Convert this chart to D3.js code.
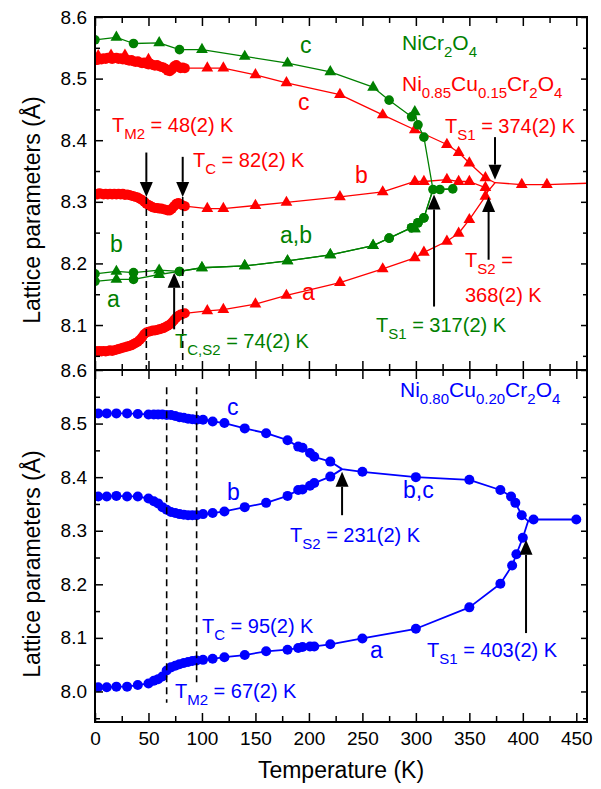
<!DOCTYPE html>
<html>
<head>
<meta charset="utf-8">
<script src="https://cdn.jsdelivr.net/npm/d3@7"></script>
<style>
  body { margin: 0; background: #fff; }
  text { font-family: "Liberation Sans", Arial, sans-serif; }
</style>
</head>
<body>
<svg id="chart" width="601" height="789"></svg>
<script>
// ---------------- NiCr2O4 (green) ----------------
const ncoCircT = [0, 36, 79, 275, 296, 302, 307.5];
const ncoCircC = [8.563, 8.557, 8.547, 8.465, 8.438, 8.425, 8.405];
const ncoCircB = [8.183, 8.185, 8.187, 8.241, 8.258, 8.266, 8.274];
const ncoCircA = [8.171, 8.174, 8.187, 8.241, 8.258, 8.266, 8.274];
const ncoTriT = [20, 60, 100, 140, 180, 220, 260, 299];
const ncoTriC = [8.567, 8.558, 8.547, 8.536, 8.525, 8.511, 8.486, 8.446];
const ncoTriB = [8.187, 8.189, 8.193, 8.196, 8.204, 8.214, 8.229, 8.256];
const ncoTriA = [8.174, 8.182, 8.193, 8.196, 8.204, 8.214, 8.229, 8.256];
const ncoCubicT = [316, 322.5, 334.5];
const ncoCubic = [8.320, 8.320, 8.321];

// ---------------- Ni0.85Cu0.15Cr2O4 (red) ----------------
const cu15CircT = [0, 2, 4, 6, 8, 10, 12, 14, 16, 18, 20, 22, 24, 26, 28, 30, 32, 34, 36, 38, 40, 42,
  44, 46, 48, 50, 52, 54, 56, 58, 60, 62, 64, 66, 68, 70, 72, 74, 76, 78, 80, 82, 84];
const cu15CircC = [8.531, 8.530, 8.532, 8.531, 8.533, 8.532, 8.534, 8.533, 8.532, 8.533, 8.534, 8.532,
  8.533, 8.531, 8.532, 8.530, 8.529, 8.530, 8.528, 8.527, 8.528, 8.526, 8.525, 8.526, 8.524, 8.523,
  8.524, 8.522, 8.521, 8.522, 8.520, 8.519, 8.518, 8.516, 8.513, 8.512, 8.515, 8.520, 8.522, 8.519,
  8.517, 8.518, 8.517];
const cu15CircB = [8.313, 8.312, 8.314, 8.313, 8.312, 8.313, 8.312, 8.313, 8.312, 8.313, 8.312, 8.313,
  8.312, 8.313, 8.311, 8.312, 8.311, 8.310, 8.309, 8.308, 8.307, 8.305, 8.303, 8.300, 8.297, 8.295,
  8.293, 8.291, 8.290, 8.290, 8.289, 8.289, 8.288, 8.287, 8.286, 8.286, 8.289, 8.293, 8.297, 8.298,
  8.296, 8.294, 8.293];
const cu15CircA = [8.058, 8.057, 8.058, 8.057, 8.058, 8.057, 8.058, 8.059, 8.058, 8.059, 8.060, 8.061,
  8.062, 8.063, 8.064, 8.065, 8.066, 8.067, 8.069, 8.071, 8.073, 8.076, 8.080, 8.085, 8.088, 8.089,
  8.090, 8.091, 8.091, 8.092, 8.093, 8.094, 8.095, 8.097, 8.099, 8.101, 8.104, 8.108, 8.112, 8.115,
  8.117, 8.118, 8.119];
const cu15TriLowT = [3, 15, 28, 50];
const cu15TriLowC = [8.537, 8.538, 8.538, 8.531];
const cu15TriT = [105, 120, 150, 179, 229, 269, 299, 307.5, 329, 340, 350, 365];
const cu15TriC = [8.517, 8.517, 8.506, 8.493, 8.474, 8.441, 8.417, null, 8.393, 8.380, 8.363, 8.339];
const cu15TriB = [8.289, 8.289, 8.294, 8.299, 8.308, 8.316, 8.333, 8.333, 8.336, 8.333, 8.333, 8.323];
const cu15TriA = [8.123, 8.125, 8.134, 8.148, 8.169, 8.191, 8.209, 8.218, 8.236, 8.249, 8.271, 8.309];
// where a meets b (tetragonal) and where c joins them (cubic)
const cu15JoinT = [367, 374];
const cu15JoinV = [8.316, 8.331];
const cu15CubicT = [399, 422.5, 475];
const cu15Cubic = [8.328, 8.328, 8.331];

// ---------------- Ni0.80Cu0.20Cr2O4 (blue) ----------------
const cu20T = [3, 11, 20, 30, 40, 50, 55, 59, 63, 67, 71, 75, 79, 83, 87, 91, 95, 101, 110, 121,
  140, 160, 180, 190, 194, 201, 205, 220];
const cu20C = [8.519, 8.519, 8.519, 8.519, 8.518, 8.517, 8.517, 8.517, 8.517, 8.516, 8.516, 8.514,
  8.512, 8.511, 8.509, 8.508, 8.507, 8.507, 8.504, 8.501, 8.491, 8.482, 8.469, 8.457, 8.455, 8.445,
  8.438, 8.429];
const cu20B = [8.364, 8.364, 8.365, 8.364, 8.364, 8.360, 8.355, 8.351, 8.344, 8.339, 8.335, 8.333,
  8.331, 8.330, 8.329, 8.329, 8.329, 8.331, 8.333, 8.336, 8.344, 8.352, 8.365, 8.376, 8.377, 8.384,
  8.389, 8.401];
const cu20A = [8.008, 8.008, 8.009, 8.009, 8.012, 8.015, 8.020, 8.023, 8.028, 8.039, 8.045, 8.048,
  8.051, 8.053, 8.055, 8.057, 8.058, 8.059, 8.061, 8.064, 8.068, 8.075, 8.078, 8.081, 8.083, 8.084,
  8.084, 8.088];
const cu20BCT = [250, 300, 350, 379, 389, 393, 399];
const cu20BC = [8.410, 8.400, 8.395, 8.376, 8.364, 8.352, 8.329];
const cu20AHighT = [250, 300, 350, 379, 390, 394, 400];
const cu20AHigh = [8.099, 8.117, 8.157, 8.201, 8.235, 8.256, 8.287];
const cu20JoinT = [231, 405];
const cu20JoinV = [8.415, 8.318];
const cu20CubicT = [410, 450];
const cu20Cubic = [8.321, 8.321];

// ---------------- transition markers ----------------
// arrows: temperature, tail value, head value
const topArrowT = [48, 82, 74, 317, 368, 374];
const topArrowFrom = [8.380, 8.373, 8.093, 8.130, 8.206, 8.405];
const topArrowTo = [8.308, 8.308, 8.185, 8.312, 8.308, 8.336];
const botArrowT = [231, 403];
const botArrowFrom = [8.329, 8.109];
const botArrowTo = [8.410, 8.283];
// dashed guides
const topDashT = [48, 82];
const topDashFrom = [8.308, 8.308];
const botDashT = [67, 95];
const botDashFrom = [8.568, 8.568];
const botDashTo = [7.979, 8.016];

// axis ticks
const xMajor = [0, 50, 100, 150, 200, 250, 300, 350, 400, 450];
const xMinor = [25, 75, 125, 175, 225, 275, 325, 375, 425];
const topYMajor = [8.1, 8.2, 8.3, 8.4, 8.5, 8.6];
const topYMinor = [8.05, 8.15, 8.25, 8.35, 8.45, 8.55];
const botYMajor = [8.0, 8.1, 8.2, 8.3, 8.4, 8.5, 8.6];
const botYMinor = [7.95, 8.05, 8.15, 8.25, 8.35, 8.45, 8.55];

// ---------------- layout ----------------
const RED = "#ff0000", GREEN = "#008000", BLUE = "#0000ff";
const left = 95, right = 587, topEdge = 17, midEdge = 370, botEdge = 722;

const svg = d3.select("#chart");
svg.append("rect").attr("width", 601).attr("height", 789).attr("fill", "#fff");

const x = d3.scaleLinear().domain([0, 460]).range([left, right]);
const yTop = d3.scaleLinear().domain([8.027, 8.6]).range([midEdge, topEdge]);
const yBot = d3.scaleLinear().domain([7.943, 8.6]).range([botEdge, midEdge]);

const pts = (T, V) => T.map((t, i) => ({ t, v: V[i] })).filter(d => d.v !== null && d.v !== undefined);
const byT = arr => arr.slice().sort((a, b) => a.t - b.t);

// clip regions
const defs = svg.append("defs");
defs.append("clipPath").attr("id", "clipTop").append("rect")
  .attr("x", left).attr("y", topEdge).attr("width", right - left).attr("height", midEdge - topEdge);
defs.append("clipPath").attr("id", "clipBot").append("rect")
  .attr("x", left).attr("y", midEdge).attr("width", right - left).attr("height", botEdge - midEdge);

function drawLine(g, y, data, color, width) {
  g.append("path").datum(data)
    .attr("fill", "none").attr("stroke", color).attr("stroke-width", width)
    .attr("stroke-linejoin", "round")
    .attr("d", d3.line().x(d => x(d.t)).y(d => y(d.v)));
}
function drawCircles(g, y, data, color, r) {
  g.append("g").selectAll("circle").data(data).join("circle")
    .attr("cx", d => x(d.t)).attr("cy", d => y(d.v)).attr("r", r).attr("fill", color);
}
function drawTriangles(g, y, data, color, size) {
  const sym = d3.symbol(d3.symbolTriangle, size);
  g.append("g").selectAll("path").data(data).join("path")
    .attr("transform", d => `translate(${x(d.t)},${y(d.v)})`)
    .attr("d", sym).attr("fill", color);
}

// ---------------- top panel data ----------------
const gTop = svg.append("g").attr("clip-path", "url(#clipTop)");

// red: Ni0.85Cu0.15Cr2O4
const redJoinAB = { t: cu15JoinT[0], v: cu15JoinV[0] };
const redJoinAll = { t: cu15JoinT[1], v: cu15JoinV[1] };
const redC = byT(pts(cu15CircT, cu15CircC).concat(pts(cu15TriLowT, cu15TriLowC), pts(cu15TriT, cu15TriC)));
const redB = byT(pts(cu15CircT, cu15CircB).concat(pts(cu15TriT, cu15TriB)));
const redA = byT(pts(cu15CircT, cu15CircA).concat(pts(cu15TriT, cu15TriA)));
const redCubic = pts(cu15CubicT, cu15Cubic);
drawLine(gTop, yTop, redC.concat([redJoinAll], redCubic), RED, 1.3);
drawLine(gTop, yTop, redB.concat([redJoinAB, redJoinAll]), RED, 1.3);
drawLine(gTop, yTop, redA.concat([redJoinAB]), RED, 1.3);
[cu15CircC, cu15CircB, cu15CircA].forEach(V => drawCircles(gTop, yTop, pts(cu15CircT, V), RED, 5));
drawTriangles(gTop, yTop, pts(cu15TriLowT, cu15TriLowC), RED, 60);
[cu15TriC, cu15TriB, cu15TriA].forEach(V => drawTriangles(gTop, yTop, pts(cu15TriT, V), RED, 60));
drawTriangles(gTop, yTop, redCubic, RED, 60);

// green: NiCr2O4
const grCubic = pts(ncoCubicT, ncoCubic);
const grC = byT(pts(ncoCircT, ncoCircC).concat(pts(ncoTriT, ncoTriC)));
const grB = byT(pts(ncoCircT, ncoCircB).concat(pts(ncoTriT, ncoTriB)));
const grA = byT(pts(ncoCircT, ncoCircA).concat(pts(ncoTriT, ncoTriA)));
drawLine(gTop, yTop, grC.concat(grCubic), GREEN, 1.3);
drawLine(gTop, yTop, grB.concat(grCubic), GREEN, 1.3);
drawLine(gTop, yTop, grA.concat(grCubic.slice(0, 1)), GREEN, 1.3);
[ncoCircC, ncoCircB, ncoCircA].forEach(V => drawCircles(gTop, yTop, pts(ncoCircT, V), GREEN, 4.8));
[ncoTriC, ncoTriB, ncoTriA].forEach(V => drawTriangles(gTop, yTop, pts(ncoTriT, V), GREEN, 60));
drawCircles(gTop, yTop, grCubic, GREEN, 4.8);

// ---------------- bottom panel data ----------------
const gBot = svg.append("g").attr("clip-path", "url(#clipBot)");
const blJoinBC = { t: cu20JoinT[0], v: cu20JoinV[0] };
const blJoinAll = { t: cu20JoinT[1], v: cu20JoinV[1] };
const blC = pts(cu20T, cu20C), blB = pts(cu20T, cu20B), blA = pts(cu20T, cu20A);
const blBC = pts(cu20BCT, cu20BC), blAH = pts(cu20AHighT, cu20AHigh), blCub = pts(cu20CubicT, cu20Cubic);
drawLine(gBot, yBot, blC.concat([blJoinBC], blBC, [blJoinAll], blCub), BLUE, 1.8);
drawLine(gBot, yBot, blB.concat([blJoinBC]), BLUE, 1.8);
drawLine(gBot, yBot, blA.concat(blAH, [blJoinAll]), BLUE, 1.8);
[blC, blB, blA, blBC, blAH, blCub].forEach(d => drawCircles(gBot, yBot, d, BLUE, 5));

// ---------------- dashed guides and arrows ----------------
function dashed(y, t, v0, v1) {
  svg.append("line").attr("x1", x(t)).attr("x2", x(t)).attr("y1", y(v0)).attr("y2", y(v1))
    .attr("stroke", "#000").attr("stroke-width", 1.6).attr("stroke-dasharray", "7,5");
}
topDashT.forEach((t, i) => dashed(yTop, t, topDashFrom[i], yTop.domain()[0]));
botDashT.forEach((t, i) => dashed(yBot, t, botDashFrom[i], botDashTo[i]));

function arrow(y, t, v0, v1) {
  const px = x(t), y0 = y(v0), y1 = y(v1);
  const dir = y1 > y0 ? 1 : -1, headL = 15, headW = 6.5;
  svg.append("line").attr("x1", px).attr("x2", px).attr("y1", y0).attr("y2", y1 - dir * headL)
    .attr("stroke", "#000").attr("stroke-width", 2);
  svg.append("path").attr("fill", "#000")
    .attr("d", `M${px},${y1}L${px - headW},${y1 - dir * headL}L${px + headW},${y1 - dir * headL}Z`);
}
topArrowT.forEach((t, i) => arrow(yTop, t, topArrowFrom[i], topArrowTo[i]));
botArrowT.forEach((t, i) => arrow(yBot, t, botArrowFrom[i], botArrowTo[i]));

// ---------------- axes ----------------
function styleAxis(g) {
  g.select(".domain").remove();
  g.selectAll(".tick line").attr("stroke", "#000").attr("stroke-width", 1.5);
  g.selectAll(".tick text").attr("fill", "#000").attr("font-size", 19)
    .attr("font-family", "Liberation Sans, Arial, sans-serif");
}
function panelAxes(y, yMajor, yMinor, xLabels) {
  const [yb, yt] = y.range();
  const fmt = d3.format(".1f");
  svg.append("g").attr("transform", `translate(${left},0)`)
    .call(d3.axisLeft(y).tickValues(yMajor).tickSize(-8).tickPadding(8).tickFormat(fmt)).call(styleAxis);
  svg.append("g").attr("transform", `translate(${left},0)`)
    .call(d3.axisLeft(y).tickValues(yMinor).tickSize(-5).tickFormat("")).call(styleAxis);
  svg.append("g").attr("transform", `translate(${right},0)`)
    .call(d3.axisRight(y).tickValues(yMajor).tickSize(-6).tickFormat("")).call(styleAxis);
  svg.append("g").attr("transform", `translate(${right},0)`)
    .call(d3.axisRight(y).tickValues(yMinor).tickSize(-4).tickFormat("")).call(styleAxis);
  svg.append("g").attr("transform", `translate(0,${yt})`)
    .call(d3.axisTop(x).tickValues(xMajor).tickSize(-9).tickFormat("")).call(styleAxis);
  svg.append("g").attr("transform", `translate(0,${yt})`)
    .call(d3.axisTop(x).tickValues(xMinor).tickSize(-6).tickFormat("")).call(styleAxis);
  svg.append("g").attr("transform", `translate(0,${yb})`)
    .call(d3.axisBottom(x).tickValues(xMajor).tickSize(-9).tickPadding(10)
      .tickFormat(xLabels ? d3.format("d") : "")).call(styleAxis);
  svg.append("g").attr("transform", `translate(0,${yb})`)
    .call(d3.axisBottom(x).tickValues(xMinor).tickSize(-6).tickFormat("")).call(styleAxis);
  svg.append("rect").attr("x", left).attr("y", yt).attr("width", right - left).attr("height", yb - yt)
    .attr("fill", "none").attr("stroke", "#000").attr("stroke-width", 2);
}
panelAxes(yTop, topYMajor, topYMinor, false);
panelAxes(yBot, botYMajor, botYMinor, true);

// axis titles
[210, 564].forEach(cy => {
  svg.append("text").attr("transform", `translate(40,${cy}) rotate(-90)`)
    .attr("text-anchor", "middle").attr("font-size", 23).attr("fill", "#000")
    .text("Lattice parameters (Å)");
});
svg.append("text").attr("x", (left + right) / 2).attr("y", 778).attr("text-anchor", "middle")
  .attr("font-size", 23).attr("fill", "#000").text("Temperature (K)");

// ---------------- annotations ----------------
const SUB = "s";
const labels = [
  { x: 300, y: 53, size: 23, color: GREEN, parts: [["c"]] },
  { x: 402, y: 50, size: 21, color: GREEN, parts: [["NiCr"], ["2", SUB], ["O"], ["4", SUB]] },
  { x: 402, y: 91, size: 21, color: RED, parts: [["Ni"], ["0.85", SUB], ["Cu"], ["0.15", SUB], ["Cr"], ["2", SUB], ["O"], ["4", SUB]] },
  { x: 298, y: 110, size: 23, color: RED, parts: [["c"]] },
  { x: 112, y: 132, size: 20, color: RED, parts: [["T"], ["M2", SUB], [" = 48(2) K"]] },
  { x: 193, y: 167, size: 20, color: RED, parts: [["T"], ["C", SUB], [" = 82(2) K"]] },
  { x: 355, y: 183, size: 23, color: RED, parts: [["b"]] },
  { x: 445, y: 133, size: 20, color: RED, parts: [["T"], ["S1", SUB], [" = 374(2) K"]] },
  { x: 110, y: 252, size: 23, color: GREEN, parts: [["b"]] },
  { x: 107, y: 307, size: 23, color: GREEN, parts: [["a"]] },
  { x: 280, y: 243, size: 23, color: GREEN, parts: [["a,b"]] },
  { x: 302, y: 300, size: 23, color: RED, parts: [["a"]] },
  { x: 175, y: 348, size: 20, color: GREEN, parts: [["T"], ["C,S2", SUB], [" = 74(2) K"]] },
  { x: 376, y: 332, size: 20, color: GREEN, parts: [["T"], ["S1", SUB], [" = 317(2) K"]] },
  { x: 465, y: 267, size: 20, color: RED, parts: [["T"], ["S2", SUB], [" ="]] },
  { x: 465, y: 302, size: 20, color: RED, parts: [["368(2) K"]] },
  { x: 400, y: 397, size: 21, color: BLUE, parts: [["Ni"], ["0.80", SUB], ["Cu"], ["0.20", SUB], ["Cr"], ["2", SUB], ["O"], ["4", SUB]] },
  { x: 227, y: 415, size: 23, color: BLUE, parts: [["c"]] },
  { x: 227, y: 500, size: 23, color: BLUE, parts: [["b"]] },
  { x: 403, y: 498, size: 23, color: BLUE, parts: [["b,c"]] },
  { x: 290, y: 542, size: 20, color: BLUE, parts: [["T"], ["S2", SUB], [" = 231(2) K"]] },
  { x: 370, y: 658, size: 23, color: BLUE, parts: [["a"]] },
  { x: 427, y: 657, size: 20, color: BLUE, parts: [["T"], ["S1", SUB], [" = 403(2) K"]] },
  { x: 202, y: 633, size: 20, color: BLUE, parts: [["T"], ["C", SUB], [" = 95(2) K"]] },
  { x: 175, y: 698, size: 20, color: BLUE, parts: [["T"], ["M2", SUB], [" = 67(2) K"]] }
];
const subShift = 7, subSize = 15;
labels.forEach(lab => {
  const t = svg.append("text").attr("x", lab.x).attr("y", lab.y)
    .attr("fill", lab.color).attr("font-size", lab.size).style("white-space", "pre");
  let lowered = false;
  lab.parts.forEach(([s, kind]) => {
    const sp = t.append("tspan").text(s);
    if (kind === SUB) {
      sp.attr("font-size", subSize).attr("dy", lowered ? 0 : subShift);
      lowered = true;
    } else {
      sp.attr("dy", lowered ? -subShift : 0);
      lowered = false;
    }
  });
});
</script>
</body>
</html>
